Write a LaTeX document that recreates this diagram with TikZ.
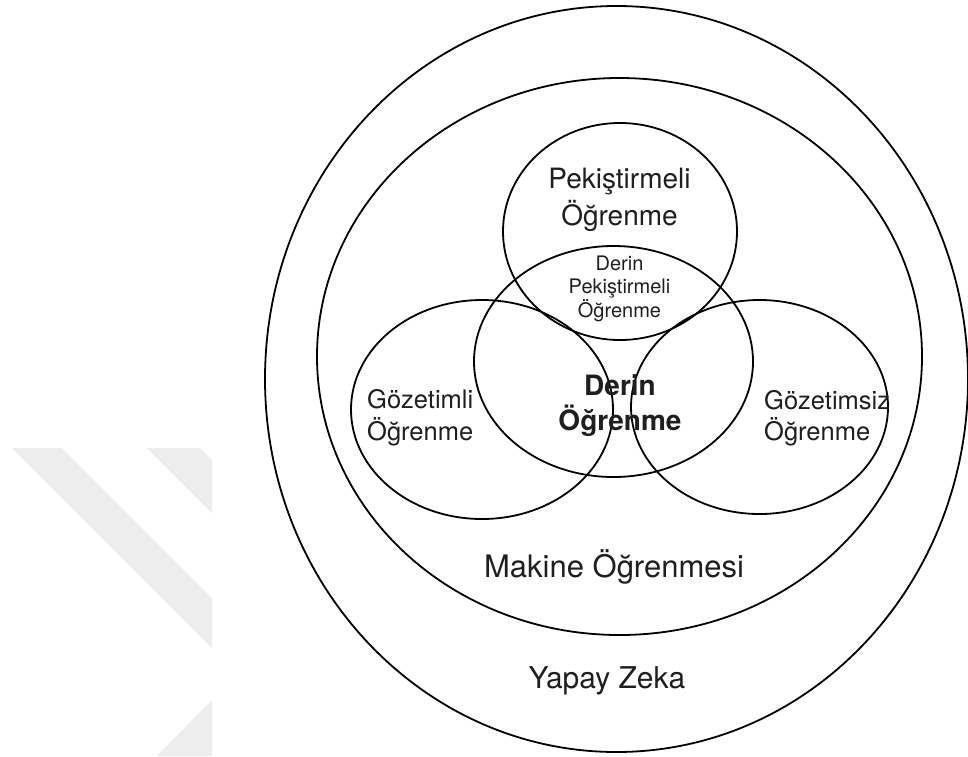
\documentclass[tikz,border=0pt]{standalone}
\usepackage{fontspec}
\setmainfont{TeX Gyre Heros}
\usetikzlibrary{shapes.geometric}
\definecolor{markgray}{HTML}{EDEDED}
\tikzset{
  set/.style={ellipse, draw=black, line width=1.8pt, inner sep=0pt},
  lbl/.style={inner sep=0pt, text=black!88},
}
\begin{document}
\begin{tikzpicture}[x=1pt, y=-1pt]
\useasboundingbox[fill=white] (0,0) rectangle (968,756);

% faint background marks on the left
\fill[markgray] (12,448) -- (62,448) -- (212,598) -- (212,648) -- cycle;
\fill[markgray] (147,448) -- (200,448) -- (212,460) -- (212,513) -- cycle;
\fill[markgray] (157,756) -- (212,700) -- (212,756) -- cycle;

% nested and overlapping sets
\node[set, minimum width=703pt, minimum height=746pt] (ai) at (616.5,379) {};
\node[set, minimum width=605pt, minimum height=557pt] (ml) at (619.5,356.5) {};
\node[set, minimum width=234pt, minimum height=217pt] (rl) at (620,231.5) {};
\node[set, minimum width=279pt, minimum height=231pt] (dl) at (613.5,361.5) {};
\node[set, minimum width=262pt, minimum height=219pt] (sl) at (482,409.5) {};
\node[set, minimum width=257pt, minimum height=214pt] (ul) at (759.5,407) {};

% labels (multi-line labels are placed by the baseline of their last line)
\node[lbl, anchor=base, align=center, font=\fontsize{28}{37}\selectfont] (rlt) at (619.5,225)
  {Pekiştirmeli\\Öğrenme};
\node[lbl, anchor=base, align=center, font=\fontsize{20}{23.5}\selectfont] (drlt) at (619.5,317)
  {Derin\\Pekiştirmeli\\Öğrenme};
\node[lbl, anchor=base west, align=left, font=\fontsize{25.5}{32}\selectfont] (slt) at (367,440)
  {Gözetimli\\Öğrenme};
\node[lbl, anchor=base west, align=left, font=\fontsize{25.5}{31}\selectfont] (ult) at (764,440)
  {Gözetimsiz\\Öğrenme};
\node[lbl, anchor=base, align=center, font=\fontsize{28}{35}\selectfont\bfseries] (dlt) at (620,430)
  {Derin\\Öğrenme};
\node[lbl, anchor=base, font=\fontsize{31}{37}\selectfont] (mlt) at (614,577) {Makine Öğrenmesi};
\node[lbl, anchor=base, font=\fontsize{30}{36}\selectfont] (ait) at (607,688) {Yapay Zeka};
\end{tikzpicture}
\end{document}
